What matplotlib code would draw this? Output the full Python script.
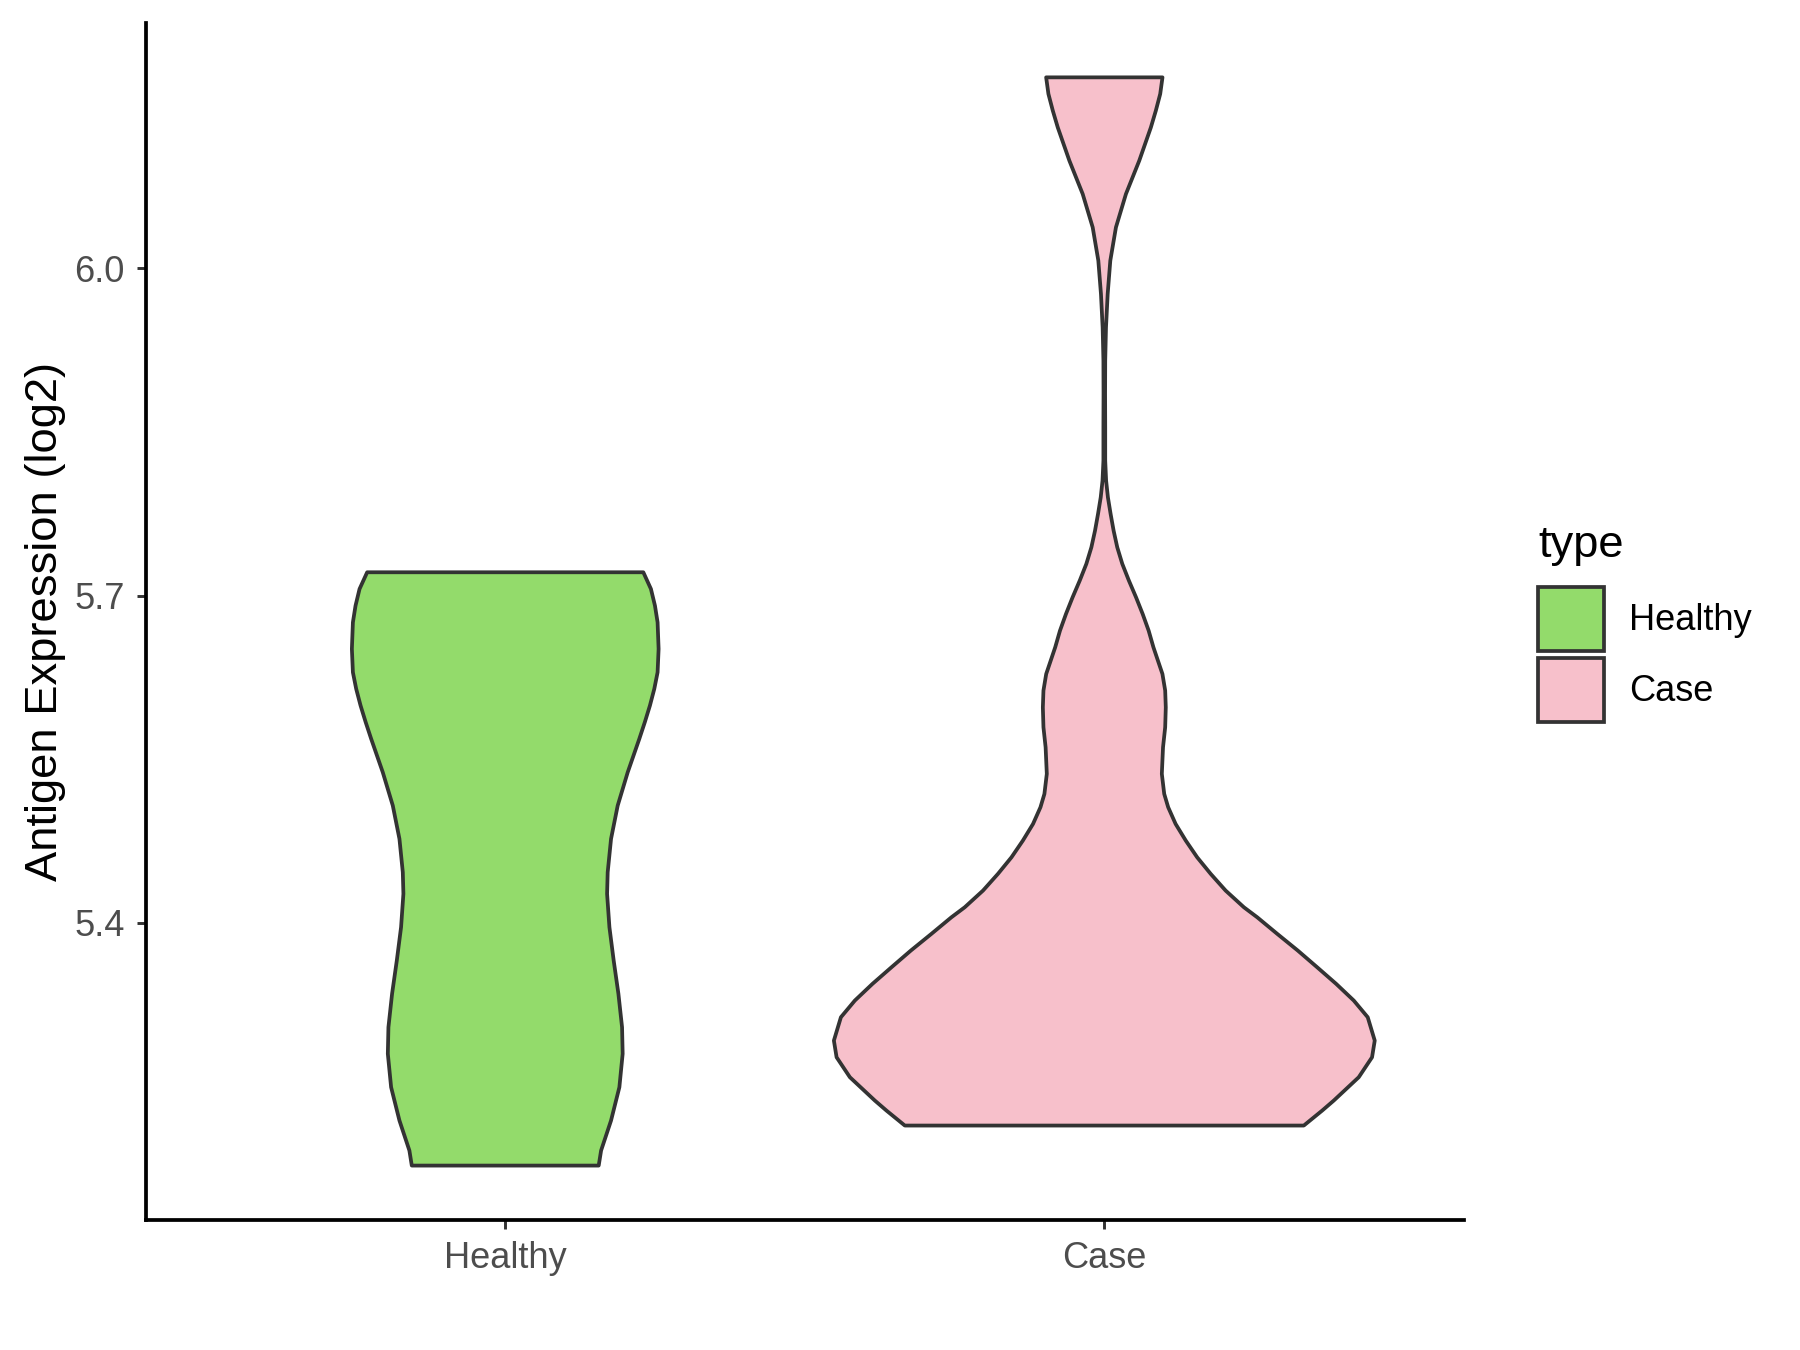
import numpy as np
import matplotlib
matplotlib.use('Agg')
import matplotlib.pyplot as plt
from matplotlib.patches import Patch

plt.rcParams['font.family'] = ['Liberation Sans', 'DejaVu Sans']

groups = ['Healthy', 'Case']
colours = ['#93DB6B', '#F7C0CB']
ylabel = 'Antigen Expression (log2)'
yticks = [5.4, 5.7, 6.0]

# violin outlines: expression value and half width (x units)
healthy_y = [5.7214, 5.7061, 5.6908, 5.6755, 5.6511, 5.6297, 5.6145, 5.5992, 5.5840,
             5.5687, 5.5380, 5.5075, 5.4770, 5.4464, 5.4266, 5.3960, 5.3655, 5.3350,
             5.3043, 5.2800, 5.2493, 5.2188, 5.1913, 5.1775]
healthy_hw = [0.2305, 0.2432, 0.2499, 0.2543, 0.2560, 0.2543, 0.2488, 0.2415, 0.2330,
              0.2238, 0.2044, 0.1877, 0.1766, 0.1710, 0.1700, 0.1739, 0.1810, 0.1889,
              0.1950, 0.1960, 0.1905, 0.1766, 0.1600, 0.1560]

case_y = [6.1751, 6.1599, 6.1446, 6.1292, 6.0987, 6.0682, 6.0376, 6.0071, 5.9765,
          5.9459, 5.9154, 5.8849, 5.8543, 5.8237, 5.8054, 5.7901, 5.7749, 5.7596,
          5.7443, 5.7291, 5.7138, 5.6984, 5.6832, 5.6679, 5.6526, 5.6282, 5.6130,
          5.5976, 5.5793, 5.5610, 5.5366, 5.5182, 5.5060, 5.4907, 5.4754, 5.4601,
          5.4449, 5.4296, 5.4143, 5.4051, 5.3899, 5.3746, 5.3593, 5.3441, 5.3288,
          5.3135, 5.2921, 5.2768, 5.2585, 5.2371, 5.2279, 5.2142]
case_hw = [0.0971, 0.0933, 0.0860, 0.0777, 0.0583, 0.0361, 0.0194, 0.0100, 0.0056,
           0.0028, 0.0015, 0.0013, 0.0015, 0.0015, 0.0030, 0.0060, 0.0105, 0.0155,
           0.0216, 0.0300, 0.0410, 0.0530, 0.0640, 0.0740, 0.0820, 0.0970, 0.1016,
           0.1026, 0.1016, 0.0980, 0.0960, 0.1000, 0.1066, 0.1190, 0.1360, 0.1550,
           0.1776, 0.2025, 0.2330, 0.2553, 0.2887, 0.3230, 0.3553, 0.3870, 0.4164,
           0.4397, 0.4514, 0.4469, 0.4247, 0.3830, 0.3636, 0.3330]

profiles = [(healthy_y, healthy_hw), (case_y, case_hw)]

fig = plt.figure(figsize=(12, 9), dpi=150)
ax = fig.add_axes([0.081, 0.0963, 0.7322, 0.8867])

for i, (yy, hw) in enumerate(profiles):
    pos = i + 1
    yy = np.array(yy)
    hw = np.array(hw)
    xs = np.concatenate([pos + hw, (pos - hw)[::-1]])
    ys = np.concatenate([yy, yy[::-1]])
    ax.fill(xs, ys, facecolor=colours[i], edgecolor='#333333', linewidth=1.8,
            joinstyle='round', zorder=2)

allv = np.concatenate([healthy_y, case_y])
lo, hi = allv.min(), allv.max()
pad = 0.05 * (hi - lo)
ax.set_ylim(lo - pad, hi + pad)
ax.set_xlim(0.4, 2.6)

ax.set_xticks([1, 2])
ax.set_xticklabels(groups)
ax.set_yticks(yticks)
ax.set_yticklabels(['%.1f' % t for t in yticks])

for s in ['top', 'right']:
    ax.spines[s].set_visible(False)
for s in ['left', 'bottom']:
    ax.spines[s].set_color('black')
    ax.spines[s].set_linewidth(1.8)

ax.tick_params(axis='both', colors='#333333', length=4.5, width=1.4,
               labelsize=17.4, labelcolor='#4D4D4D', pad=5.5)
ax.set_ylabel(ylabel, fontsize=21.8, color='black', labelpad=4)

handles = [Patch(facecolor=c, edgecolor='#333333', linewidth=1.8, label=g)
           for g, c in zip(groups, colours)]
leg = fig.legend(handles=handles, title='type', loc='center left',
                 bbox_to_anchor=(0.8546, 0.538), frameon=False, fontsize=17.4,
                 title_fontsize=21.8, handlelength=1.8, handleheight=2.34,
                 handletextpad=0.7, labelspacing=0.2, borderpad=0,
                 borderaxespad=0)
leg._legend_box.align = 'left'
leg._legend_box.sep = 10

fig.savefig('out.png', dpi=150)
